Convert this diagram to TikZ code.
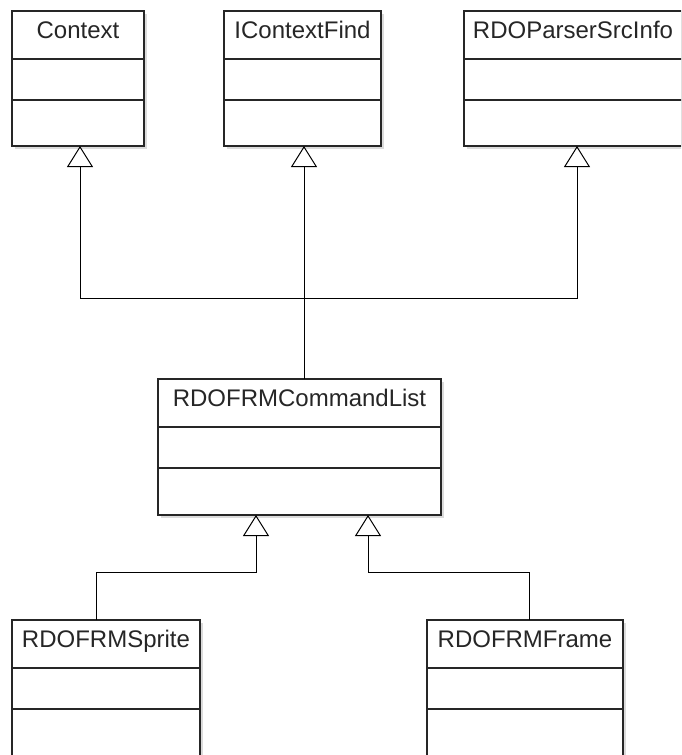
\documentclass[tikz,border=0pt]{standalone}
\usepackage{fontspec}
\setmainfont{Liberation Sans}
\usetikzlibrary{arrows.meta}

\tikzset{
  classbox/.style={draw=black!85, line width=1.6pt, fill=white, inner sep=0pt,
    outer sep=0pt, anchor=north west},
  classshadow/.style={fill=black!14},
  classname/.style={anchor=base, inner sep=0pt, text=black!85,
    font=\fontsize{24}{28}\selectfont},
  divider/.style={draw=black!85, line width=1.6pt},
  inherit/.style={draw=black, line width=1pt,
    -{Triangle[open, length=21pt, width=26pt, line width=1pt]}},
}

% \umlclass{id}{left}{top}{right}{bottom}{name}
\newcommand\umlclass[6]{%
  \fill[classshadow] (#2+3,#3+3) rectangle (#4+3,#5+3);
  \node[classbox, minimum width={(#4-#2)*1pt}, minimum height={(#5-#3)*1pt}]
    (#1) at (#2,#3) {};
  \node[classname, yshift=-27pt] (#1-name) at (#1.north) {#6};
  \draw[divider] ([yshift=-48pt]#1.north west) -- ([yshift=-48pt]#1.north east);
  \draw[divider] ([yshift=-89pt]#1.north west) -- ([yshift=-89pt]#1.north east);
}

\begin{document}
\begin{tikzpicture}[x=1pt, y=-1pt]
  \useasboundingbox (0,0) rectangle (681,755);
  \clip (0,0) rectangle (681,755);
  \fill[white] (0,0) rectangle (681,755);

  % base classes
  \umlclass{ctx}{12}{11}{144}{146}{Context}
  \umlclass{icf}{224}{11}{381}{146}{IContextFind}
  \umlclass{rdo}{464}{11}{682}{146}{RDOParserSrcInfo}

  % middle class
  \umlclass{cmd}{158}{379}{441}{515}{RDOFRMCommandList}

  % derived classes
  \umlclass{spr}{12}{620}{200}{770}{RDOFRMSprite}
  \umlclass{frm}{427}{620}{623}{770}{RDOFRMFrame}

  % generalisations of RDOFRMCommandList
  \coordinate (bus) at ([xshift=4.5pt, yshift=81pt]cmd.north);
  \draw[inherit] ([xshift=4.5pt]cmd.north) -- (bus) -| ([xshift=2pt]ctx.south);
  \draw[inherit] (bus) -- ([xshift=1.5pt]icf.south);
  \draw[inherit] (bus) -| ([xshift=4pt]rdo.south);

  % generalisations of the frame elements
  \draw[inherit] ([xshift=-10pt]spr.north) -- ++(0,-48) -| ([xshift=-43.5pt]cmd.south);
  \draw[inherit] ([xshift=4pt]frm.north) -- ++(0,-48) -| ([xshift=68.5pt]cmd.south);
\end{tikzpicture}
\end{document}
